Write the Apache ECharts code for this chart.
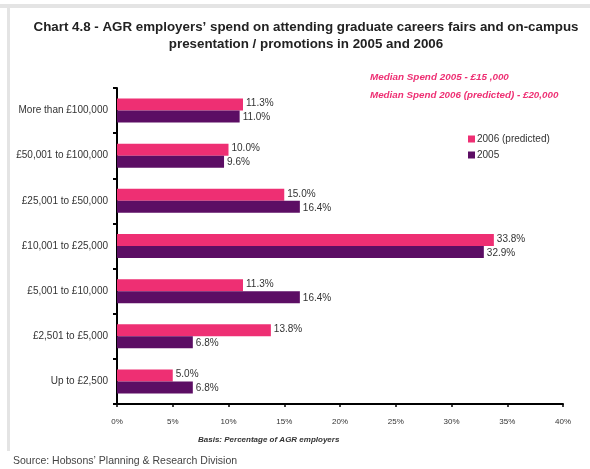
<!DOCTYPE html>
<html>
<head>
<meta charset="utf-8">
<script src="https://cdn.jsdelivr.net/npm/echarts@6/dist/echarts.min.js"></script>
<style>
  html, body { margin: 0; padding: 0; background: #fff; }
  #chart { width: 590px; height: 469px; }
</style>
</head>
<body>
<div id="chart"></div>
<script>
// Spend bands, listed top to bottom
const categories = [
  'More than £100,000',
  '£50,001 to £100,000',
  '£25,001 to £50,000',
  '£10,001 to £25,000',
  '£5,001 to £10,000',
  '£2,501 to £5,000',
  'Up to £2,500'
];
// Percentage of AGR employers in each band
const spend2006 = [11.3, 10.0, 15.0, 33.8, 11.3, 13.8, 5.0];
const spend2005 = [11.0, 9.6, 16.4, 32.9, 16.4, 6.8, 6.8];
const seriesNames = ['2006 (predicted)', '2005'];
const xTicks = { min: 0, max: 40, interval: 5 };

const PINK = '#ee2f73';
const PURPLE = '#5c0e64';
const FONT = 'Liberation Sans, Arial, sans-serif';

const chart = echarts.init(document.getElementById('chart'), null, { renderer: 'canvas' });

const valueLabel = {
  show: true,
  position: 'right',
  distance: 3,
  fontFamily: FONT,
  fontSize: 10,
  color: '#333',
  formatter: p => p.value.toFixed(1) + '%'
};

chart.setOption({
  animation: false,
  backgroundColor: '#fff',
  textStyle: { fontFamily: FONT },
  title: {
    text: 'Chart 4.8 - AGR employers’ spend on attending graduate careers fairs and on-campus\npresentation / promotions in 2005 and 2006',
    left: 301,
    textAlign: 'center',
    top: 14,
    textStyle: { fontFamily: FONT, fontSize: 13.35, fontWeight: 'bold', color: '#222', lineHeight: 17 }
  },
  legend: {
    data: seriesNames,
    orient: 'vertical',
    left: 463,
    top: 129,
    icon: 'rect',
    itemWidth: 7,
    itemHeight: 7,
    itemGap: 6,
    textStyle: { fontFamily: FONT, fontSize: 10, color: '#333', padding: [0, 0, 0, -3] }
  },
  grid: { left: 117, right: 27, top: 88, bottom: 65, containLabel: false },
  xAxis: {
    type: 'value',
    min: xTicks.min,
    max: xTicks.max,
    interval: xTicks.interval,
    axisLine: { show: true, lineStyle: { color: '#000', width: 2 } },
    axisTick: { show: true, length: 3, lineStyle: { color: '#000', width: 1.5 } },
    axisLabel: { fontFamily: FONT, fontSize: 8, color: '#333', margin: 14, formatter: v => v + '%' },
    splitLine: { show: false }
  },
  yAxis: {
    type: 'category',
    data: categories,
    inverse: true,
    axisLine: { show: true, lineStyle: { color: '#000', width: 2 } },
    axisTick: { show: true, length: 4, alignWithLabel: false, lineStyle: { color: '#000', width: 2 } },
    axisLabel: { fontFamily: FONT, fontSize: 10, color: '#333', margin: 9 }
  },
  series: [
    {
      name: seriesNames[0],
      type: 'bar',
      data: spend2006,
      itemStyle: { color: PINK },
      barWidth: 12,
      barGap: '0%',
      label: valueLabel,
      labelLayout: { dy: -1 }
    },
    {
      name: seriesNames[1],
      type: 'bar',
      data: spend2005,
      itemStyle: { color: PURPLE },
      barWidth: 12,
      barGap: '0%',
      label: valueLabel,
      labelLayout: { dy: 1 }
    }
  ],
  graphic: [
    { type: 'rect', shape: { x: 0, y: 4, width: 590, height: 4 }, style: { fill: '#e4e4e4' }, silent: true },
    { type: 'rect', shape: { x: 7, y: 4, width: 3, height: 447 }, style: { fill: '#e4e4e4' }, silent: true },
    {
      type: 'text', left: 370, top: 72,
      style: { text: 'Median Spend 2005 - £15 ,000', font: 'italic bold 9.9px ' + FONT, fill: PINK }
    },
    {
      type: 'text', left: 370, top: 90,
      style: { text: 'Median Spend 2006 (predicted) - £20,000', font: 'italic bold 9.8px ' + FONT, fill: PINK }
    },
    {
      type: 'text', left: 198, top: 436,
      style: { text: 'Basis: Percentage of AGR employers', font: 'italic bold 8px ' + FONT, fill: '#333' }
    },
    {
      type: 'text', left: 13, top: 456,
      style: { text: 'Source: Hobsons’ Planning & Research Division', font: '10.5px ' + FONT, fill: '#444' }
    }
  ]
});
</script>
</body>
</html>
